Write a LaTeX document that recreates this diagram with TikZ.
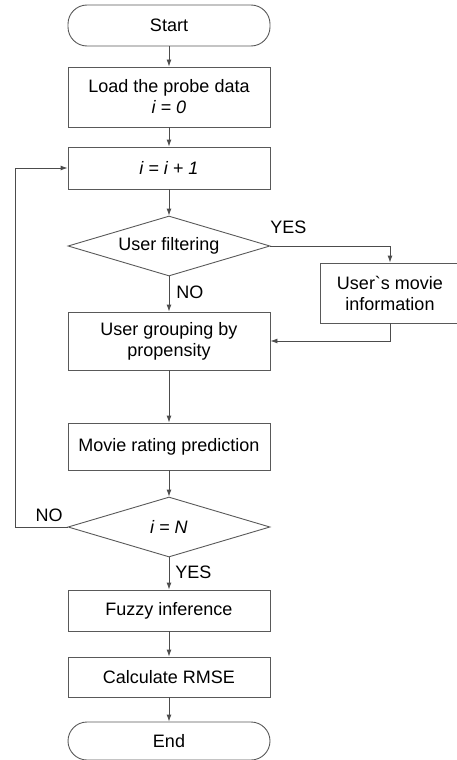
\documentclass[tikz,border=0pt]{standalone}
\usepackage{fontspec}
\setmainfont{Liberation Sans}[Ligatures=TeXOff]
\usepackage{tikz}
\usetikzlibrary{positioning,shapes.geometric,arrows.meta}

\begin{document}
\begin{tikzpicture}[x=1pt, y=-1pt,
  every node/.style={font=\fontsize{18}{21}\selectfont, align=center, inner sep=0pt},
  stepbox/.style={rectangle, draw=black!65, line width=0.9pt, minimum width=202pt},
  termbox/.style={rectangle, rounded corners=19pt, draw=black!65, line width=0.9pt, minimum width=202pt},
  decide/.style={diamond, aspect=3.4, draw=black!65, line width=0.9pt, minimum width=202pt, minimum height=60pt},
  flow/.style={draw=black!70, line width=0.9pt, -{Latex[length=7pt,width=5pt]}}]
  \useasboundingbox (0,0) rectangle (457,760);
  \node[termbox, minimum height=41pt] (start) at (169,25.5)  {Start};
  \node[stepbox, minimum height=60pt] (load)  at (169,97)    {Load the probe data\\\textit{i = 0}};
  \node[stepbox, minimum height=42pt] (inc)   at (169,168)   {\textit{i = i + 1}};
  \node[decide]                       (filt)  at (169,246)   {User filtering};
  \node[stepbox, minimum width=140pt, minimum height=60pt] (movie) at (390,293) {User`s movie\\information};
  \node[stepbox, minimum height=58pt] (group) at (169,341)   {User grouping by\\propensity};
  \node[stepbox, minimum height=47pt] (rate)  at (169,446.5) {Movie rating prediction};
  \node[decide]                       (test)  at (169,527)   {\textit{i = N}};
  \node[stepbox, minimum height=41pt] (fuzzy) at (169,610.5) {Fuzzy inference};
  \node[stepbox, minimum height=40pt] (rmse)  at (169,677)   {Calculate RMSE};
  \node[termbox, minimum height=38pt] (end)   at (169,741)   {End};
  \coordinate (yes1) at (390,246);
  \coordinate (back) at (390,341);
  \coordinate (lp1)  at (15,527);
  \coordinate (lp2)  at (15,168);
  \draw[flow] (start) -- (load);
  \draw[flow] (load) -- (inc);
  \draw[flow] (inc) -- (filt);
  \draw[flow] (filt) -- node[right=7pt, pos=0.45] (no1) {NO} (group);
  \draw[flow] (filt.east) -- node[above=12pt, pos=0.15] (yes1t) {YES} (yes1) -- (movie);
  \draw[flow] (movie.south -| back) -- (back) -- (group.east);
  \draw[flow] (group) -- (rate);
  \draw[flow] (rate) -- (test);
  \draw[flow] (test.west) -- node[above=5pt, pos=0.35] (no2) {NO} (lp1) -- (lp2) -- (inc.west);
  \draw[flow] (test) -- node[right=6pt, pos=0.45] (yes2) {YES} (fuzzy);
  \draw[flow] (fuzzy) -- (rmse);
  \draw[flow] (rmse) -- (end);
\end{tikzpicture}
\end{document}
